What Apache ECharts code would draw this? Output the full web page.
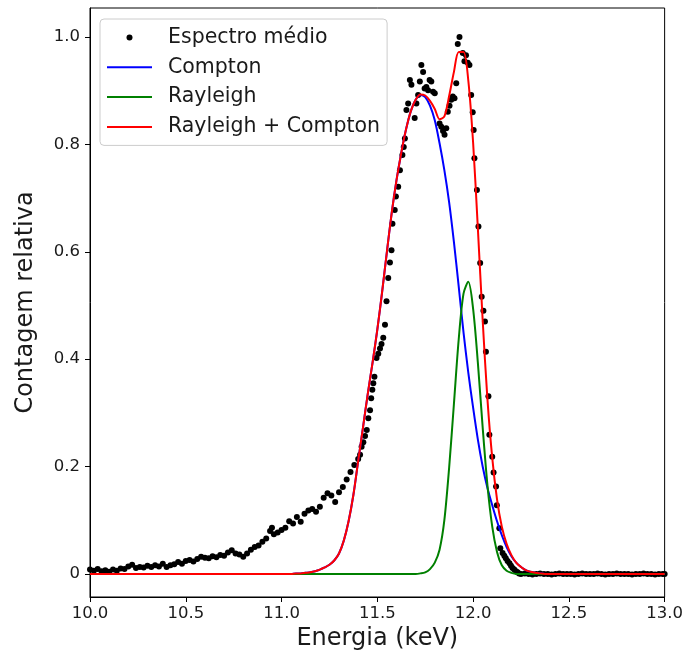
<!DOCTYPE html>
<html>
<head>
<meta charset="utf-8">
<script src="https://cdn.jsdelivr.net/npm/echarts@6/dist/echarts.min.js"></script>
<style>
html,body{margin:0;padding:0;background:#fff;}
#chart{width:686px;height:656px;}
</style>
</head>
<body>
<div id="chart"></div>
<script>
// ---- data ----
const xTicks = [10.0, 10.5, 11.0, 11.5, 12.0, 12.5, 13.0];
const yTicks = [0, 0.2, 0.4, 0.6, 0.8, 1.0];

// Measured mean spectrum (energy keV, relative count)
const specEnergy = [
  10.00,10.02,10.04,10.06,10.08,10.10,10.12,10.14,10.16,10.18,10.20,10.22,10.24,10.26,10.28,10.30,10.32,10.34,10.36,10.38,
  10.40,10.42,10.44,10.46,10.48,10.50,10.52,10.54,10.56,10.58,10.60,10.62,10.64,10.66,10.68,10.70,10.72,10.74,10.76,10.78,
  10.80,10.82,10.84,10.86,10.88,10.90,10.92,10.94,10.95,10.96,10.98,11.00,11.02,11.04,11.06,11.08,11.10,11.12,11.14,11.16,
  11.18,11.20,11.22,11.24,11.26,11.28,11.30,11.32,11.34,11.36,11.38,11.40,
  11.410,11.418,11.427,11.436,11.445,11.453,11.462,11.468,11.474,11.479,11.485,11.496,11.505,11.514,11.522,11.531,11.540,
  11.548,11.557,11.566,11.574,11.579,11.591,11.597,11.609,11.618,11.631,11.638,11.644,11.652,11.661,11.670,11.678,11.695,
  11.704,11.713,11.722,11.730,11.739,11.747,11.756,11.765,11.773,11.782,11.791,11.800,11.825,11.834,11.843,11.851,11.860,
  11.868,11.877,11.886,11.894,11.903,11.912,11.920,11.929,11.946,11.955,11.963,11.972,11.981,11.990,11.998,12.003,12.007,
  12.020,12.028,12.037,12.045,12.054,12.062,12.067,12.080,12.085,12.100,12.107,12.120,12.124,12.137,12.142,12.154,12.163,
  12.171,12.180,12.190,12.198,12.206,12.215,12.224,12.232,12.240,
  12.25,12.27,12.29,12.31,12.33,12.35,12.37,12.39,12.41,12.43,12.45,12.47,12.49,12.51,12.53,12.55,12.57,12.59,12.61,12.63,
  12.65,12.67,12.69,12.71,12.73,12.75,12.77,12.79,12.81,12.83,12.85,12.87,12.89,12.91,12.93,12.95,12.97,12.99,13.00
];
const specCount = [
  0.008,0.006,0.009,0.005,0.007,0.004,0.008,0.006,0.010,0.009,0.014,0.017,0.011,0.013,0.012,0.015,0.013,0.016,0.014,0.019,
  0.013,0.016,0.018,0.022,0.019,0.024,0.026,0.023,0.028,0.032,0.030,0.029,0.033,0.031,0.035,0.034,0.040,0.044,0.038,0.036,
  0.032,0.038,0.045,0.050,0.053,0.060,0.066,0.080,0.086,0.074,0.077,0.082,0.086,0.098,0.094,0.106,0.097,0.112,0.118,0.121,
  0.116,0.125,0.142,0.150,0.146,0.134,0.152,0.162,0.176,0.190,0.203,0.214,
  0.222,0.237,0.245,0.257,0.268,0.290,0.305,0.327,0.343,0.355,0.367,0.402,0.410,0.420,0.428,0.440,0.464,
  0.508,0.551,0.580,0.603,0.652,0.678,0.703,0.721,0.752,0.780,0.795,0.811,0.864,0.876,0.920,0.911,0.849,
  0.876,0.892,0.917,0.948,0.935,0.904,0.907,0.901,0.920,0.917,0.898,0.895,0.839,0.833,0.825,0.818,0.830,
  0.861,0.872,0.883,0.889,0.886,0.914,0.987,1.000,0.970,0.955,0.966,0.952,0.948,0.892,0.860,0.827,0.774,
  0.715,0.647,0.579,0.516,0.490,0.470,0.414,0.331,0.259,0.218,0.189,0.163,0.128,0.085,0.048,0.039,0.034,
  0.029,0.024,0.020,0.015,0.011,0.008,0.005,0.003,0.001,
  0.000,0.001,0.000,-0.001,0.000,0.001,0.000,0.000,-0.001,0.000,0.001,0.000,0.000,0.000,-0.001,0.000,0.001,0.000,0.000,0.000,
  0.001,0.000,-0.001,0.000,0.000,0.001,0.000,0.000,0.000,-0.001,0.000,0.000,0.001,0.000,0.000,-0.001,0.000,0.000,0.000
];

// Fitted curves sampled on an energy grid (keV)
const curveEnergy = [
  10.000,10.500,11.000,11.025,11.050,11.075,11.100,11.125,11.150,11.175,11.200,11.225,11.250,11.275,11.300,11.325,11.350,
  11.375,11.400,11.425,11.450,11.475,11.500,11.525,11.550,11.575,11.600,11.625,11.650,11.675,11.700,11.725,11.750,11.775,
  11.800,11.825,11.850,11.875,11.900,11.925,11.950,11.975,12.000,12.025,12.050,12.075,12.100,12.125,12.150,12.175,12.200,
  12.225,12.250,12.275,12.300,12.325,12.350,12.375,12.400,12.500,13.000
];
const compton = [
  0.000,0.000,0.000,0.000,0.000,0.001,0.001,0.002,0.003,0.005,0.008,0.012,0.017,0.025,0.038,0.062,0.098,
  0.147,0.210,0.272,0.335,0.393,0.455,0.525,0.600,0.672,0.733,0.784,0.828,0.862,0.883,0.892,0.888,0.872,
  0.845,0.802,0.752,0.692,0.618,0.535,0.450,0.375,0.310,0.250,0.200,0.160,0.128,0.098,0.072,0.050,0.033,
  0.021,0.013,0.007,0.004,0.002,0.001,0.000,0.000,0.000,0.000
];
const rayleigh = [
  0.000,0.000,0.000,0.000,0.000,0.000,0.000,0.000,0.000,0.000,0.000,0.000,0.000,0.000,0.000,0.000,0.000,
  0.000,0.000,0.000,0.000,0.000,0.000,0.000,0.000,0.000,0.000,0.000,0.000,0.000,0.000,0.001,0.003,0.009,
  0.021,0.045,0.100,0.198,0.317,0.437,0.522,0.544,0.494,0.393,0.273,0.165,0.088,0.041,0.016,0.006,0.002,
  0.000,0.000,0.000,0.000,0.000,0.000,0.000,0.000,0.000,0.000
];
const total = [
  0.000,0.000,0.000,0.000,0.000,0.001,0.001,0.002,0.003,0.005,0.008,0.012,0.017,0.025,0.038,0.062,0.098,
  0.147,0.210,0.272,0.335,0.393,0.455,0.525,0.600,0.672,0.733,0.784,0.828,0.862,0.883,0.893,0.891,0.881,
  0.866,0.847,0.852,0.890,0.935,0.972,0.972,0.919,0.804,0.643,0.473,0.325,0.216,0.139,0.088,0.056,0.035,
  0.021,0.013,0.007,0.004,0.002,0.001,0.000,0.000,0.000,0.000
];

const seriesNames = ['Espectro médio', 'Compton', 'Rayleigh', 'Rayleigh + Compton'];

// ---- chart ----
const zip = (xs, ys) => xs.map((x, i) => [x, ys[i]]);
const FONT = 'DejaVu Sans';
const TXT = '#1a1a1a';
const LINE_ICON = 'path://M0,0 L45,0 L45,2 L0,2 Z';

const chart = echarts.init(document.getElementById('chart'), null, {renderer: 'canvas'});

function lineSeries(name, ys, color) {
  return {
    name: name, type: 'line', data: zip(curveEnergy, ys),
    showSymbol: false, symbol: 'none', smooth: 0.3, z: 3,
    lineStyle: {color: color, width: 2}, itemStyle: {color: color},
    emphasis: {disabled: true}, animation: false
  };
}

chart.setOption({
  animation: false,
  backgroundColor: '#fff',
  textStyle: {fontFamily: FONT},
  grid: {left: 90, right: 18, top: 8, bottom: 59, show: true, borderColor: '#000', borderWidth: 1, backgroundColor: 'transparent'},
  legend: {
    orient: 'vertical', left: 100, top: 19,
    padding: [8, 7, 8, 7],
    itemWidth: 45, itemHeight: 6, itemGap: 8.8,
    backgroundColor: 'rgba(255,255,255,0.8)', borderColor: '#cccccc', borderWidth: 1, borderRadius: 4,
    textStyle: {fontFamily: FONT, fontSize: 20.5, color: TXT, lineHeight: 20, padding: [0, 0, 0, 11]},
    data: [
      {name: seriesNames[0], icon: 'circle', itemStyle: {color: '#000', opacity: 1}},
      {name: seriesNames[1], icon: LINE_ICON, itemStyle: {color: '#0000ff'}},
      {name: seriesNames[2], icon: LINE_ICON, itemStyle: {color: '#008000'}},
      {name: seriesNames[3], icon: LINE_ICON, itemStyle: {color: '#ff0000'}}
    ]
  },
  xAxis: {
    type: 'value', min: 10, max: 13, interval: 0.5,
    name: 'Energia (keV)', nameLocation: 'middle', nameGap: 26,
    nameTextStyle: {fontFamily: FONT, fontSize: 24, color: TXT},
    axisLine: {show: true, onZero: false, lineStyle: {color: '#000', width: 1}},
    axisTick: {show: true, inside: false, length: 5, lineStyle: {color: '#000', width: 1}},
    axisLabel: {fontFamily: FONT, fontSize: 16.5, color: TXT, margin: 8,
      formatter: v => xTicks.some(t => Math.abs(t - v) < 1e-9) ? v.toFixed(1) : ''},
    splitLine: {show: false}
  },
  yAxis: {
    type: 'value', min: -0.043, max: 1.054,
    name: 'Contagem relativa', nameLocation: 'middle', nameGap: 52, nameRotate: 90,
    nameTextStyle: {fontFamily: FONT, fontSize: 24, color: TXT},
    axisLine: {show: true, onZero: false, lineStyle: {color: '#000', width: 1}},
    axisTick: {show: true, inside: false, length: 5, customValues: yTicks, lineStyle: {color: '#000', width: 1}},
    axisLabel: {fontFamily: FONT, fontSize: 16.5, color: TXT, margin: 10, customValues: yTicks,
      formatter: v => (Math.abs(v) < 1e-9 ? '0' : v.toFixed(1))},
    splitLine: {show: false}
  },
  series: [
    {
      name: seriesNames[0], type: 'scatter', data: zip(specEnergy, specCount),
      symbol: 'circle', symbolSize: 6, z: 2,
      itemStyle: {color: '#000', opacity: 1}, emphasis: {disabled: true}
    },
    lineSeries(seriesNames[1], compton, '#0000ff'),
    lineSeries(seriesNames[2], rayleigh, '#008000'),
    lineSeries(seriesNames[3], total, '#ff0000')
  ]
});
</script>
</body>
</html>
